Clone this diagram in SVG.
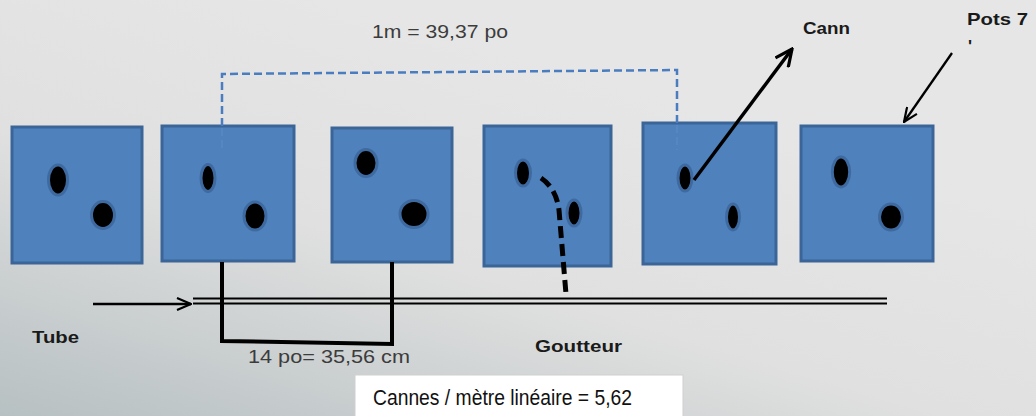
<svg xmlns="http://www.w3.org/2000/svg" width="1036" height="416" viewBox="0 0 1036 416">
<defs>
<linearGradient id="bg" x1="0" y1="1" x2="0.6" y2="0.2">
<stop offset="0" stop-color="#b7c0c2"/>
<stop offset="0.55" stop-color="#e0e0e0"/>
<stop offset="1" stop-color="#e6e6e6"/>
</linearGradient>
<marker id="chevS" viewBox="0 0 16 14" refX="15" refY="7" markerWidth="16" markerHeight="14" orient="auto" markerUnits="userSpaceOnUse">
<path d="M1,1 L15,7 L1,13" fill="none" stroke="#000" stroke-width="2.2"/>
</marker>
<marker id="chevL" viewBox="0 0 20 18" refX="18" refY="9" markerWidth="20" markerHeight="18" orient="auto" markerUnits="userSpaceOnUse">
<path d="M1,1 L18,9 L1,17" fill="none" stroke="#000" stroke-width="3.2"/>
</marker>
</defs>
<style>
.pot{fill:#4f81bd;stroke:#3b6497;stroke-width:3}
.hole{fill:#000;stroke:#3f6aa0;stroke-width:3}
.lbl{font-family:"Liberation Sans",Arial,sans-serif;fill:#1a1a1a}
.b{font-weight:bold}
.gray{fill:#3c3c3c}
.blk{fill:none;stroke:#000}
</style>
<rect x="0" y="0" width="1036" height="416" fill="url(#bg)"/>

<g id="pot1">
<rect class="pot" x="12" y="127" width="130" height="136"/>
<ellipse class="hole" cx="58" cy="180" rx="9.5" ry="15"/>
<ellipse class="hole" cx="103" cy="215" rx="11.5" ry="13.5"/>
</g>
<g id="pot2">
<rect class="pot" x="162" y="126" width="132" height="135"/>
<ellipse class="hole" cx="208" cy="178" rx="7" ry="13.5"/>
<ellipse class="hole" cx="255" cy="216" rx="11" ry="14"/>
</g>
<g id="pot3">
<rect class="pot" x="332" y="128" width="120" height="134"/>
<ellipse class="hole" cx="366" cy="163" rx="11" ry="13.5"/>
<ellipse class="hole" cx="414" cy="214" rx="14" ry="13.5"/>
</g>
<g id="pot4">
<rect class="pot" x="484" y="126" width="127" height="140"/>
<ellipse class="hole" cx="523" cy="173" rx="7.5" ry="13"/>
<ellipse class="hole" cx="574" cy="213" rx="7" ry="13"/>
</g>
<g id="pot5">
<rect class="pot" x="643" y="123" width="133" height="141"/>
<ellipse class="hole" cx="685" cy="178" rx="7" ry="13"/>
<ellipse class="hole" cx="733" cy="217" rx="6.5" ry="13"/>
</g>
<g id="pot6">
<rect class="pot" x="801" y="126" width="132" height="135"/>
<ellipse class="hole" cx="841" cy="172" rx="8.7" ry="15"/>
<ellipse class="hole" cx="891" cy="217" rx="11.5" ry="13"/>
</g>

<g id="connectors">
<!-- blue dashed 1m measure -->
<path d="M222,126 L222,74 L677,70 L677,123" fill="none" stroke="#4a7cc0" stroke-width="2.5" stroke-dasharray="8 4"/>
<path d="M222,128 L222,148 M677,125 L677,150" fill="none" stroke="#5c8dcc" stroke-width="1.5" stroke-dasharray="8 4" opacity="0.6"/>
<!-- tube -->
<line class="blk" x1="193" y1="298.5" x2="887" y2="298.5" stroke-width="2.2"/>
<line class="blk" x1="193" y1="303.5" x2="887" y2="303.5" stroke-width="2.2"/>
<line class="blk" x1="93" y1="304" x2="191" y2="304" stroke-width="2.5" marker-end="url(#chevS)"/>
<!-- 14 po bracket -->
<path d="M222,262 L222,341 L392,344 L392,262" fill="none" stroke="#000" stroke-width="4"/>
<!-- goutteur dashed -->
<path d="M541,178 Q556,188 559,210 L566,294" fill="none" stroke="#000" stroke-width="5" stroke-dasharray="12 6"/>
<!-- Cann arrow -->
<line class="blk" x1="694" y1="180" x2="792" y2="49" stroke-width="3.5" marker-end="url(#chevL)"/>
<!-- Pots arrow -->
<line class="blk" x1="952" y1="53" x2="904" y2="122" stroke-width="2.3" marker-end="url(#chevS)"/>
</g>

<g id="labels">
<text class="lbl gray" x="372" y="38" font-size="19" textLength="136" lengthAdjust="spacingAndGlyphs">1m = 39,37 po</text>
<text class="lbl b" x="803" y="34" font-size="17" textLength="47" lengthAdjust="spacingAndGlyphs">Cann</text>
<text class="lbl b" x="967" y="25" font-size="17" textLength="61" lengthAdjust="spacingAndGlyphs">Pots 7</text>
<text class="lbl b" x="968" y="52" font-size="17">'</text>
<text class="lbl b" x="32" y="343" font-size="17" textLength="47" lengthAdjust="spacingAndGlyphs">Tube</text>
<text class="lbl b" x="535" y="352" font-size="17" textLength="87" lengthAdjust="spacingAndGlyphs">Goutteur</text>
<text class="lbl gray" x="248" y="363" font-size="19" textLength="162" lengthAdjust="spacingAndGlyphs">14 po= 35,56 cm</text>
</g>

<g id="note">
<rect x="355" y="375" width="328" height="50" fill="#ffffff" stroke="#cfcfcf" stroke-width="1"/>
<text x="373" y="405" font-family="'Liberation Sans Narrow','Liberation Sans',Arial,sans-serif" font-size="22" fill="#111" textLength="259" lengthAdjust="spacingAndGlyphs">Cannes / mètre linéaire = 5,62</text>
</g>
</svg>
